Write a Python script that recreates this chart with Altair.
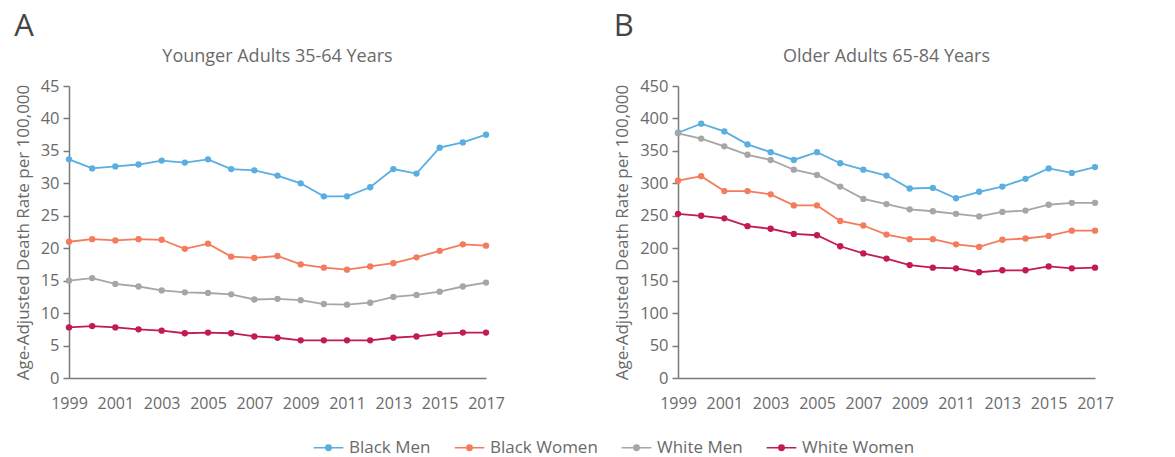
import altair as alt
import pandas as pd

years = list(range(1999, 2018))
series = ["Black Men", "Black Women", "White Men", "White Women"]
colors = ["#5aaee0", "#f47b5c", "#a6a6a6", "#c21a52"]

young_black_men = [33.7, 32.3, 32.6, 32.9, 33.5, 33.2, 33.7, 32.2, 32.0, 31.2, 30.0, 28.0, 28.0, 29.4, 32.2, 31.5, 35.5, 36.3, 37.5]
young_black_women = [21.0, 21.4, 21.2, 21.4, 21.3, 19.9, 20.7, 18.7, 18.5, 18.8, 17.5, 17.0, 16.7, 17.2, 17.7, 18.6, 19.6, 20.6, 20.4]
young_white_men = [15.0, 15.4, 14.5, 14.1, 13.5, 13.2, 13.1, 12.9, 12.1, 12.2, 12.0, 11.4, 11.3, 11.6, 12.5, 12.8, 13.3, 14.1, 14.7]
young_white_women = [7.8, 8.0, 7.8, 7.5, 7.3, 6.9, 7.0, 6.9, 6.4, 6.2, 5.8, 5.8, 5.8, 5.8, 6.2, 6.4, 6.8, 7.0, 7.0]

old_black_men = [378, 392, 380, 360, 348, 336, 348, 331, 321, 312, 292, 293, 277, 287, 295, 307, 323, 316, 325]
old_black_women = [304, 311, 288, 288, 283, 266, 266, 242, 235, 221, 214, 214, 206, 202, 213, 215, 219, 227, 227]
old_white_men = [377, 369, 357, 344, 336, 321, 313, 295, 276, 268, 260, 257, 253, 249, 256, 258, 267, 270, 270]
old_white_women = [253, 250, 246, 234, 230, 222, 220, 203, 192, 184, 174, 170, 169, 163, 166, 166, 172, 169, 170]

x_ticks = [1999, 2001, 2003, 2005, 2007, 2009, 2011, 2013, 2015, 2017]


def make_df(vals):
    rows = []
    for name, v in zip(series, vals):
        for yr, val in zip(years, v):
            rows.append({"Year": yr, "Rate": val, "Group": name})
    return pd.DataFrame(rows)


young_df = make_df([young_black_men, young_black_women, young_white_men, young_white_women])
old_df = make_df([old_black_men, old_black_women, old_white_men, old_white_women])

FONT = "Open Sans"
TXT = "#6a6a6a"
AX = "#7a7a7a"

W, H = 417, 292

color_enc = alt.Color(
    "Group:N",
    scale=alt.Scale(domain=series, range=colors),
    legend=alt.Legend(
        title=None,
        orient="none",
        legendX=248,
        legendY=350,
        direction="horizontal",
        symbolType="M-1.4,0L1.4,0M-0.25,0A0.25,0.25 0 1,1 0.25,0A0.25,0.25 0 1,1 -0.25,0",
        symbolSize=450,
        symbolStrokeWidth=1.6,
        labelFontSize=17,
        labelColor=TXT,
        labelFont=FONT,
        labelOffset=9,
        columnPadding=20,
    ),
)


def panel(df, ymax, ystep, title, letter):
    x_enc = alt.X(
        "Year:Q",
        scale=alt.Scale(domain=[1999, 2017], nice=False, zero=False),
        axis=alt.Axis(
            values=x_ticks, format="d", title=None, ticks=False, grid=False,
            labelFontSize=16, labelColor=TXT, labelFont=FONT, labelPadding=17,
            domainColor=AX, domainWidth=1.5, labelFlush=False,
        ),
    )
    y_enc = alt.Y(
        "Rate:Q",
        scale=alt.Scale(domain=[0, ymax], nice=False),
        axis=alt.Axis(
            values=list(range(0, ymax + 1, ystep)),
            title="Age-Adjusted Death Rate per 100,000",
            titleFontSize=17, titleColor=TXT, titleFont=FONT, titleFontWeight="normal",
            titlePadding=8,
            labelFontSize=16.5, labelColor=TXT, labelFont=FONT, labelPadding=4,
            grid=False, tickSize=6, tickColor=AX, tickWidth=1.5,
            domainColor=AX, domainWidth=1.5,
        ),
    )
    base = alt.Chart(df).encode(x=x_enc, y=y_enc, color=color_enc)
    lines = base.mark_line(strokeWidth=1.8)
    pts = base.mark_circle(size=40, opacity=1)
    title_txt = alt.Chart(pd.DataFrame({"t": [title]})).mark_text(
        fontSize=18, font=FONT, color=TXT, align="center", baseline="middle"
    ).encode(text="t:N", x=alt.value(W / 2), y=alt.value(-29))
    return alt.layer(lines, pts, title_txt).properties(
        width=W, height=H,
        title=alt.TitleParams(letter, fontSize=31, font=FONT, color="#444", fontWeight="normal",
                              anchor="start", frame="bounds", offset=5),
    )


left = panel(young_df, 45, 5, "Younger Adults 35-64 Years", "A")
right = panel(old_df, 450, 50, "Older Adults 65-84 Years", "B")

chart = alt.hconcat(left, right, spacing=108).configure(
    padding={"left": 6, "top": 3, "right": 5, "bottom": 0},
    view=alt.ViewConfig(stroke=None),
)

chart.save("out.html", embed_options={"renderer": "svg", "actions": False})
